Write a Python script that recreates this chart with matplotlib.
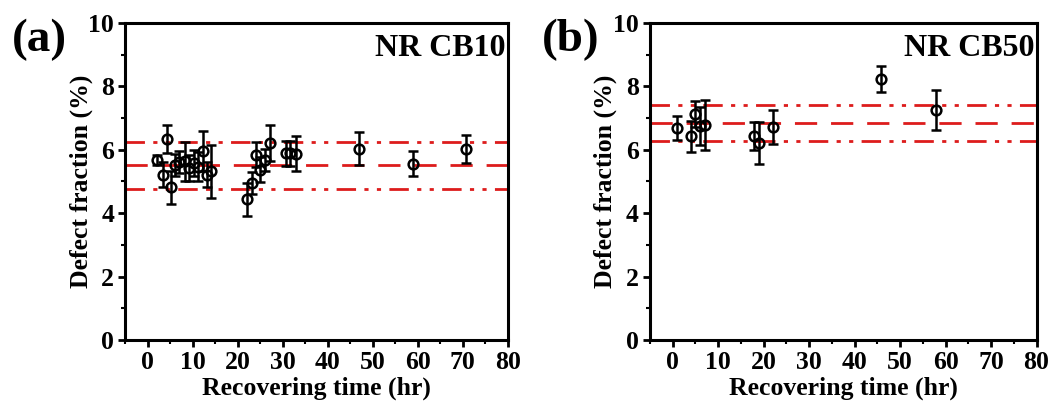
import matplotlib
matplotlib.use("Agg")
import matplotlib.pyplot as plt
from matplotlib.ticker import MultipleLocator

plt.rcParams['font.family'] = ['Liberation Serif', 'DejaVu Serif']
plt.rcParams['font.weight'] = 'bold'

# Panel (a) NR CB10
a_time = [2.0, 3.3, 4.2, 5.2, 6.1, 6.9, 8.2, 9.1, 10.2, 11.1, 12.2, 13.1, 14.1,
          22.0, 23.2, 24.1, 25.0, 26.0, 27.1, 30.8, 31.7, 33.0, 47.0, 59.0, 70.8]
a_val = [5.68, 5.21, 6.34, 4.81, 5.53, 5.62, 5.63, 5.42, 5.58, 5.47, 5.95, 5.21, 5.32,
         4.44, 4.95, 5.84, 5.37, 5.68, 6.21, 5.89, 5.89, 5.87, 6.03, 5.56, 6.03]
a_err = [0.15, 0.40, 0.43, 0.52, 0.35, 0.35, 0.60, 0.40, 0.40, 0.45, 0.63, 0.40, 0.83,
         0.52, 0.35, 0.40, 0.40, 0.35, 0.56, 0.40, 0.40, 0.55, 0.52, 0.39, 0.45]
a_lines = [5.52, 6.25, 4.75]  # mean, upper, lower

# Panel (b) NR CB50
b_time = [0.95, 4.0, 4.9, 5.9, 7.0, 17.8, 18.9, 22.0, 45.9, 57.8]
b_val = [6.68, 6.42, 7.13, 6.74, 6.79, 6.44, 6.21, 6.71, 8.23, 7.26]
b_err = [0.37, 0.50, 0.40, 0.60, 0.79, 0.45, 0.65, 0.53, 0.42, 0.63]
b_lines = [6.83, 7.40, 6.26]

fig = plt.figure(figsize=(10.62, 4.01), dpi=100)
ax_a = fig.add_axes([0.118, 0.152, 0.360, 0.791])
ax_b = fig.add_axes([0.612, 0.152, 0.364, 0.791])

red = '#dd1c1c'
dashdotdot = (0, (7, 3, 1.5, 3, 1.5, 3))

def draw(ax, t, v, e, lines, name, tag, tagx):
    ax.axhline(lines[0], color=red, lw=2.0, ls=(0, (8, 5)), zorder=1)
    ax.axhline(lines[1], color=red, lw=2.0, ls=dashdotdot, zorder=1)
    ax.axhline(lines[2], color=red, lw=2.0, ls=dashdotdot, zorder=1)
    ax.errorbar(t, v, yerr=e, fmt='o', ms=7, mfc='none', mec='black', mew=1.8,
                ecolor='black', elinewidth=1.8, capsize=3.5, capthick=1.8, zorder=3)
    ax.set_xlim(-5, 80)
    ax.set_ylim(0, 10)
    ax.xaxis.set_major_locator(MultipleLocator(10))
    ax.xaxis.set_minor_locator(MultipleLocator(5))
    ax.yaxis.set_major_locator(MultipleLocator(2))
    ax.yaxis.set_minor_locator(MultipleLocator(1))
    ax.tick_params(which='major', direction='out', length=5, width=2, labelsize=18.5, pad=3)
    ax.tick_params(which='minor', direction='out', length=3, width=1.5)
    for s in ax.spines.values():
        s.set_linewidth(2.2)
    for lab in ax.get_xticklabels() + ax.get_yticklabels():
        lab.set_fontweight('bold')
    ax.set_xlabel('Recovering time (hr)', fontsize=18.5, fontweight='bold', labelpad=2)
    ax.set_ylabel('Defect fraction (%)', fontsize=18.5, fontweight='bold', labelpad=-3)
    ax.text(0.995, 0.965, name, transform=ax.transAxes, ha='right', va='top',
            fontsize=23, fontweight='bold')
    ax.text(tagx, 0.946, tag, transform=ax.transAxes, ha='left', va='center',
            fontsize=34, fontweight='bold')

draw(ax_a, a_time, a_val, a_err, a_lines, 'NR CB10', '(a)', -0.296)
draw(ax_b, b_time, b_val, b_err, b_lines, 'NR CB50', '(b)', -0.279)

fig.savefig('out.png', dpi=100)
